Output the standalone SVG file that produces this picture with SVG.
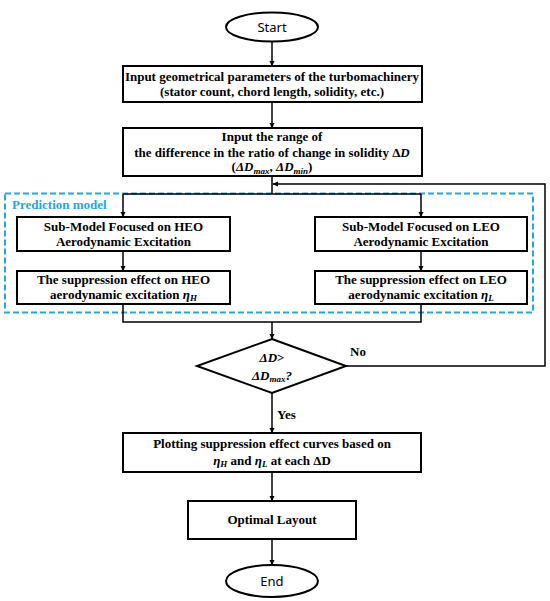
<svg xmlns="http://www.w3.org/2000/svg" width="550" height="601" viewBox="0 0 550 601">
<defs>
<marker id="ah" markerWidth="6" markerHeight="6" refX="5" refY="3" orient="auto" markerUnits="userSpaceOnUse">
<path d="M0,0.5 L5.5,3 L0,5.5 Z" fill="#000"/>
</marker>
<style>
.box{fill:#fff;stroke:#000;stroke-width:2}
.t{font-family:"Liberation Serif","Times New Roman",serif;font-weight:bold;font-size:13px;fill:#000;text-anchor:middle}
.s{font-family:"Noto Sans","Liberation Sans",sans-serif;font-size:13px;fill:#000;text-anchor:middle}
.c{fill:none;stroke:#000;stroke-width:1.5}
.ca{fill:none;stroke:#000;stroke-width:1.5;marker-end:url(#ah)}
.i{font-style:italic}
.sub{font-style:italic;font-size:9px}
</style>
</defs>
<rect width="550" height="601" fill="#fff"/>

<g id="prediction-model">
<rect x="5" y="193.5" width="528" height="119" fill="none" stroke="#22A8E0" stroke-width="2" stroke-dasharray="6,3"/>
<text x="12" y="209" font-family="Liberation Serif,serif" font-weight="bold" font-size="13" fill="#22A8E0">Prediction model</text>
</g>

<g id="connectors">
<path class="ca" d="M272,41 V66"/>
<path class="ca" d="M272,102 V128"/>
<path class="c" d="M272,176 V194 M123,194 H421"/>
<path class="ca" d="M123,194 V217"/>
<path class="ca" d="M421,194 V217"/>
<path class="ca" d="M346,366 H545 V184 H273"/>
<path class="ca" d="M123,251 V271"/>
<path class="ca" d="M421,251 V271"/>
<path class="c" d="M123,304 V322 H421 V304"/>
<path class="ca" d="M272,322 V339"/>
<path class="ca" d="M272,393 V433"/>
<path class="ca" d="M272,472 V501"/>
<path class="ca" d="M272,539 V565"/>
<text class="t" x="350" y="356" text-anchor="start" style="text-anchor:start">No</text>
<text class="t" x="277" y="419" style="text-anchor:start">Yes</text>
</g>

<g id="start">
<ellipse cx="272" cy="27" rx="46" ry="14.5" fill="#fff" stroke="#000" stroke-width="2"/>
<text class="s" x="272" y="31.5">Start</text>
</g>

<g id="input-geometry">
<rect class="box" x="123" y="66" width="299" height="36"/>
<text class="t" x="272" y="81">Input geometrical parameters of the turbomachinery</text>
<text class="t" x="272" y="96">(stator count, chord length, solidity, etc.)</text>
</g>

<g id="input-range">
<rect class="box" x="123" y="128" width="299" height="48"/>
<text class="t" x="272" y="141">Input the range of</text>
<text class="t" x="272" y="157">the difference in the ratio of change in solidity Δ<tspan class="i">D</tspan></text>
<text class="t" x="272" y="171">(<tspan class="i">ΔD</tspan><tspan class="sub" dy="3">max</tspan><tspan dy="-3">, </tspan><tspan class="i">ΔD</tspan><tspan class="sub" dy="3">min</tspan><tspan dy="-3">)</tspan></text>
</g>

<g id="heo-submodel">
<rect class="box" x="17" y="217" width="213" height="34"/>
<text class="t" x="123.5" y="231">Sub-Model Focused on HEO</text>
<text class="t" x="123.5" y="246">Aerodynamic Excitation</text>
</g>

<g id="leo-submodel">
<rect class="box" x="315" y="217" width="212" height="34"/>
<text class="t" x="421" y="231">Sub-Model Focused on LEO</text>
<text class="t" x="421" y="246">Aerodynamic Excitation</text>
</g>

<g id="heo-effect">
<rect class="box" x="17" y="271" width="213" height="33"/>
<text class="t" x="123.5" y="284">The suppression effect on HEO</text>
<text class="t" x="123.5" y="299">aerodynamic excitation <tspan class="i">η</tspan><tspan class="sub" dy="2">H</tspan></text>
</g>

<g id="leo-effect">
<rect class="box" x="315" y="271" width="212" height="33"/>
<text class="t" x="421" y="284">The suppression effect on LEO</text>
<text class="t" x="421" y="299">aerodynamic excitation <tspan class="i">η</tspan><tspan class="sub" dy="2">L</tspan></text>
</g>

<g id="decision">
<polygon points="272,339 346,366 272,393 197,366" fill="#fff" stroke="#000" stroke-width="2"/>
<text class="t" x="272" y="362"><tspan class="i">Δ</tspan><tspan class="i">D</tspan>&gt;</text>
<text class="t" x="272" y="380"><tspan class="i">ΔD</tspan><tspan class="sub" dy="2">max</tspan><tspan dy="-2" class="i">?</tspan></text>
</g>

<g id="plotting">
<rect class="box" x="123" y="433" width="298" height="39"/>
<text class="t" x="272" y="448">Plotting suppression effect curves based on</text>
<text class="t" x="272" y="465"><tspan class="i">η</tspan><tspan class="sub" dy="2">H</tspan><tspan dy="-2"> and </tspan><tspan class="i">η</tspan><tspan class="sub" dy="2">L</tspan><tspan dy="-2"> at each ΔD</tspan></text>
</g>

<g id="optimal-layout">
<rect class="box" x="188" y="501" width="168" height="38"/>
<text class="t" x="272" y="524">Optimal Layout</text>
</g>

<g id="end">
<ellipse cx="272" cy="581" rx="46" ry="16" fill="#fff" stroke="#000" stroke-width="2"/>
<text class="s" x="272" y="585.5">End</text>
</g>
</svg>
